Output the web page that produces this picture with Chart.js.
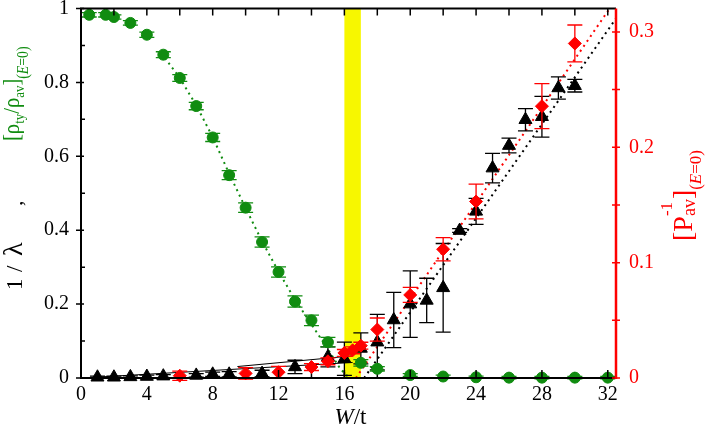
<!DOCTYPE html>
<html>
<head>
<meta charset="utf-8">
<script src="https://cdn.jsdelivr.net/npm/chart.js@4.4.0/dist/chart.umd.min.js"></script>
<style>
  body { margin: 0; background: #fff; }
  #wrap { width: 706px; height: 428px; position: relative; }
</style>
</head>
<body>
<div id="wrap"><canvas id="chart"></canvas></div>
<script>
// values
const xTicks = [0, 4, 8, 12, 16, 20, 24, 28, 32];
const xMinorTicks = [0, 2, 4, 6, 8, 10, 12, 14, 16, 18, 20, 22, 24, 26, 28, 30, 32];
const yLeftTicks = [0, 0.2, 0.4, 0.6, 0.8, 1];
const yLeftMinor = [0.1, 0.3, 0.5, 0.7, 0.9];
const yRightTicks = [0, 0.1, 0.2, 0.3];
const yRightMinor = [0.05, 0.15, 0.25];

// [rho_ty / rho_av] (green, left axis)
const greenW   = [0.5, 1.5, 2, 3, 4, 5, 6, 7, 8, 9, 10, 11, 12, 13, 14, 15, 17, 18, 20, 22, 24, 26, 28, 30, 32];
const greenVal = [0.983, 0.983, 0.977, 0.961, 0.929, 0.875, 0.812, 0.736, 0.651, 0.549, 0.461, 0.368, 0.287, 0.207, 0.156, 0.097, 0.041, 0.025, 0.008, 0.004, 0.002, 0.001, 0.001, 0.001, 0.001];
const greenErr = [0.006, 0.006, 0.006, 0.006, 0.007, 0.008, 0.009, 0.01, 0.011, 0.012, 0.013, 0.014, 0.014, 0.015, 0.014, 0.013, 0.009, 0.006, 0.004, 0.004, 0.003, 0.003, 0.003, 0.003, 0.003];

// 1/lambda (black, left axis)
const blackW   = [1, 2, 3, 4, 5, 7, 8, 9, 11, 13, 15, 16, 17, 18, 19, 20, 21, 22, 23, 24, 25, 26, 27, 28, 29, 30];
const blackVal = [0.002, 0.002, 0.003, 0.004, 0.005, 0.007, 0.01, 0.01, 0.012, 0.03, 0.057, 0.052, 0.08, 0.097, 0.157, 0.2, 0.21, 0.244, 0.399, 0.451, 0.568, 0.629, 0.699, 0.707, 0.785, 0.791];
const blackErr = [0.003, 0.003, 0.003, 0.004, 0.004, 0.005, 0.006, 0.007, 0.009, 0.018, 0.027, 0.045, 0.042, 0.075, 0.075, 0.09, 0.06, 0.12, 0.005, 0.035, 0.04, 0.02, 0.03, 0.055, 0.03, 0.017];

// [P^-1_av] (red, right axis)
const redW   = [6, 10, 12, 14, 15, 16, 16.5, 17, 18, 20, 22, 24, 28, 30];
const redVal = [0.002, 0.004, 0.005, 0.0095, 0.0145, 0.0217, 0.024, 0.028, 0.042, 0.072, 0.1116, 0.153, 0.2356, 0.29];
const redErr = [0.004, 0.005, 0.005, 0.003, 0.003, 0.003, 0.003, 0.003, 0.01, 0.0065, 0.01, 0.015, 0.0195, 0.016];

// dotted / solid guide lines
const greenFitW   = [5.1, 6, 7, 8, 9, 10, 11, 12, 13, 14, 15, 15.75, 16.3];
const greenFitVal = [0.866, 0.812, 0.738, 0.652, 0.553, 0.46, 0.37, 0.288, 0.212, 0.145, 0.078, 0.025, 0];
const blackFitW   = [17.2, 32.5];
const blackFitVal = [0, 0.973];
const redFitW     = [16.7, 32.1];
const redFitVal   = [0, 0.32];
const lowLineW    = [0, 16.5];
const lowLineVal  = [0, 0.042];
const lowLine2W   = [9.5, 16.5];
const lowLine2Val = [0.031, 0.06];

const bandW = [16, 17];

const GREEN = '#108c10';
const RED = '#ff0000';
const FONT = '"Liberation Serif", "Times New Roman", serif';

const pts = (xs, ys) => xs.map((x, i) => ({x: x, y: ys[i]}));

function richText(ctx, x, y, k, parts) {
    // text rotated -90deg, reading bottom to top, baseline at canvas x; k squeezes along the text
    ctx.save();
    ctx.translate(x, y);
    ctx.rotate(-Math.PI / 2);
    ctx.scale(k, 1);
    ctx.textAlign = 'left';
    ctx.textBaseline = 'alphabetic';
    let u = 0, prevStart = 0, prevEnd = 0;
    parts.forEach(p => {
        ctx.font = (p.it ? 'italic ' : '') + p.s + 'px ' + FONT;
        ctx.fillStyle = p.c;
        if (p.at != null) u = (y - p.at) / k;
        if (p.stack) u = prevStart;
        const w = ctx.measureText(p.t).width;
        ctx.fillText(p.t, u, p.dy || 0);
        const end = u + w;
        prevStart = u;
        u = p.stack ? Math.max(end, prevEnd) : end;
        prevEnd = u;
    });
    ctx.restore();
}

const frame = {
    id: 'frame',
    beforeDatasetsDraw(chart) {
        const {ctx, chartArea: a, scales: {x}} = chart;
        ctx.save();
        ctx.fillStyle = '#f7f700';
        const x0 = x.getPixelForValue(bandW[0]);
        const x1 = x.getPixelForValue(bandW[1]);
        ctx.fillRect(x0, a.top, x1 - x0, a.bottom - a.top);
        // bottom minor ticks, under the markers
        ctx.strokeStyle = '#000';
        ctx.lineWidth = 1.5;
        xMinorTicks.forEach(v => {
            const px = x.getPixelForValue(v);
            ctx.beginPath();
            ctx.moveTo(px, a.bottom);
            ctx.lineTo(px, a.bottom - 6);
            ctx.stroke();
        });
        ctx.restore();
    },
    beforeDatasetDraw(chart, args) {
        const ds = chart.data.datasets[args.index];
        if (!ds.errors) return;
        const ctx = chart.ctx;
        const ys = chart.scales[ds.yAxisID];
        ctx.save();
        ctx.strokeStyle = ds.errColor;
        ctx.lineWidth = 1.3;
        args.meta.data.forEach((el, i) => {
            const v = ds.data[i].y, e = ds.errors[i];
            const t = ys.getPixelForValue(v + e);
            const b = ys.getPixelForValue(v - e);
            ctx.beginPath();
            ctx.moveTo(el.x, t); ctx.lineTo(el.x, b);
            ctx.moveTo(el.x - 7.5, t); ctx.lineTo(el.x + 7.5, t);
            ctx.moveTo(el.x - 7.5, b); ctx.lineTo(el.x + 7.5, b);
            ctx.stroke();
        });
        ctx.restore();
    },
    afterDraw(chart) {
        const {ctx, chartArea: a, scales: {x, y, y2}} = chart;
        ctx.save();
        ctx.lineCap = 'butt';
        // frame
        ctx.strokeStyle = '#000';
        ctx.lineWidth = 2;
        ctx.beginPath();
        ctx.moveTo(a.right, a.top); ctx.lineTo(a.left, a.top);
        ctx.lineTo(a.left, a.bottom); ctx.lineTo(a.right, a.bottom);
        ctx.stroke();
        ctx.lineWidth = 1.5;
        ctx.beginPath();
        xTicks.forEach(v => {
            const px = x.getPixelForValue(v);
            ctx.moveTo(px, a.bottom); ctx.lineTo(px, a.bottom - 8);
        });
        xMinorTicks.forEach(v => {
            const px = x.getPixelForValue(v);
            ctx.moveTo(px, a.top); ctx.lineTo(px, a.top + 7);
        });
        yLeftTicks.forEach(v => {
            const py = y.getPixelForValue(v);
            ctx.moveTo(a.left - 5, py); ctx.lineTo(a.left + 3, py);
        });
        yLeftMinor.forEach(v => {
            const py = y.getPixelForValue(v);
            ctx.moveTo(a.left - 1, py); ctx.lineTo(a.left + 4, py);
        });
        ctx.stroke();
        // right axis
        ctx.strokeStyle = RED;
        ctx.lineWidth = 2.5;
        ctx.beginPath();
        ctx.moveTo(a.right, a.top); ctx.lineTo(a.right, a.bottom + 1);
        ctx.stroke();
        ctx.lineWidth = 1.5;
        ctx.beginPath();
        yRightTicks.concat(yRightMinor).forEach(v => {
            const py = y2.getPixelForValue(v);
            ctx.moveTo(a.right - 4, py); ctx.lineTo(a.right + 4, py);
        });
        ctx.stroke();

        // x title
        ctx.fillStyle = '#000';
        ctx.textBaseline = 'alphabetic';
        ctx.font = 'italic 23px ' + FONT;
        const wW = ctx.measureText('W').width;
        ctx.font = '23px ' + FONT;
        const wR = ctx.measureText('/t').width;
        const cx = (a.left + a.right) / 2 + 2 - (wW + wR) / 2;
        ctx.font = 'italic 23px ' + FONT;
        ctx.fillText('W', cx, 424);
        ctx.font = '23px ' + FONT;
        ctx.fillText('/t', cx + wW, 424);

        // left title
        richText(ctx, 22, 290, 1, [
            {t: '1', s: 23, c: '#000'},
            {t: '/', s: 23, c: '#000', at: 272},
            {t: '\u03bb', s: 28, c: '#000', at: 256},
            {t: ',', s: 22, c: '#000', at: 206}
        ]);
        richText(ctx, 19, 141, 0.86, [
            {t: '[', s: 24, c: GREEN},
            {t: '\u03c1', s: 24, c: GREEN},
            {t: 'ty', s: 15, c: GREEN, dy: 5},
            {t: '/', s: 24, c: GREEN},
            {t: '\u03c1', s: 24, c: GREEN},
            {t: 'av', s: 15, c: GREEN, dy: 5},
            {t: ']', s: 24, c: GREEN},
            {t: '(', s: 16, c: GREEN, dy: 9},
            {t: 'E', s: 16, c: GREEN, dy: 9, it: true},
            {t: '=0)', s: 16, c: GREEN, dy: 9}
        ]);
        // right title
        richText(ctx, 692, 241, 1, [
            {t: '[', s: 28, c: RED},
            {t: 'P', s: 28, c: RED},
            {t: '-1', s: 17, c: RED, dy: -20},
            {t: 'av', s: 18, c: RED, dy: 3, stack: true},
            {t: ']', s: 28, c: RED},
            {t: '(', s: 17, c: RED, dy: 9},
            {t: 'E', s: 17, c: RED, dy: 9, it: true},
            {t: '=0)', s: 17, c: RED, dy: 9}
        ]);
        ctx.restore();
    }
};

const noPad = s => { s.paddingTop = 0; s.paddingBottom = 0; };

const ctx = document.getElementById('chart');
new Chart(ctx, {
    type: 'scatter',
    data: {
        datasets: [
            {
                data: pts(greenW, greenVal), yAxisID: 'y', order: 1,
                errors: greenErr, errColor: GREEN, clip: false,
                pointStyle: 'circle', pointRadius: 5.5, backgroundColor: GREEN, borderColor: GREEN, borderWidth: 1
            },
            {
                data: pts(redW, redVal), yAxisID: 'y2', order: 2,
                errors: redErr, errColor: RED, clip: false,
                pointStyle: 'rectRot', pointRadius: 6.5, backgroundColor: RED, borderColor: RED, borderWidth: 1
            },
            {
                data: pts(blackW, blackVal), yAxisID: 'y', order: 3,
                errors: blackErr, errColor: '#000', clip: false,
                pointStyle: 'triangle', pointRadius: 7.5, backgroundColor: '#000', borderColor: '#000', borderWidth: 1
            },
            {
                data: pts(greenFitW, greenFitVal), yAxisID: 'y', order: 5, showLine: true,
                borderColor: GREEN, borderWidth: 2, borderDash: [2, 4], pointRadius: 0
            },
            {
                data: pts(blackFitW, blackFitVal), yAxisID: 'y', order: 6, showLine: true,
                borderColor: '#000', borderWidth: 2, borderDash: [2, 4], pointRadius: 0
            },
            {
                data: pts(redFitW, redFitVal), yAxisID: 'y2', order: 4, showLine: true,
                borderColor: RED, borderWidth: 2, borderDash: [2, 4], pointRadius: 0
            },
            {
                data: pts(lowLineW, lowLineVal), yAxisID: 'y', order: 7, showLine: true,
                borderColor: '#000', borderWidth: 1, pointRadius: 0
            },
            {
                data: pts(lowLine2W, lowLine2Val), yAxisID: 'y', order: 7, showLine: true,
                borderColor: '#000', borderWidth: 1, pointRadius: 0
            }
        ]
    },
    options: {
        responsive: true,
        maintainAspectRatio: false,
        animation: false,
        layout: {padding: {top: 8, left: 0, right: 0, bottom: 0}},
        plugins: {legend: {display: false}, tooltip: {enabled: false}},
        scales: {
            x: {
                type: 'linear', position: 'bottom', min: 0, max: 32.5,
                afterBuildTicks: s => { s.ticks = xTicks.map(v => ({value: v})); },
                afterFit: s => { s.height = 50; s.paddingLeft = 0; s.paddingRight = 0; },
                grid: {display: false, drawTicks: false},
                border: {display: false},
                ticks: {padding: 5, color: '#000', font: {family: FONT, size: 20}, maxRotation: 0, callback: v => String(v)}
            },
            y: {
                type: 'linear', position: 'left', min: 0, max: 1,
                afterBuildTicks: s => { s.ticks = yLeftTicks.map(v => ({value: v})); },
                afterFit: s => { s.width = 81; noPad(s); },
                grid: {display: false, drawTicks: false},
                border: {display: false},
                ticks: {padding: 12, color: '#000', font: {family: FONT, size: 20}, callback: v => String(v)}
            },
            y2: {
                type: 'linear', position: 'right', min: 0, max: 0.3203,
                afterBuildTicks: s => { s.ticks = yRightTicks.map(v => ({value: v})); },
                afterFit: s => { s.width = 90; noPad(s); },
                grid: {display: false, drawTicks: false},
                border: {display: false},
                ticks: {padding: 13, color: RED, font: {family: FONT, size: 20}, callback: v => String(v)}
            }
        }
    },
    plugins: [frame]
});
</script>
</body>
</html>
